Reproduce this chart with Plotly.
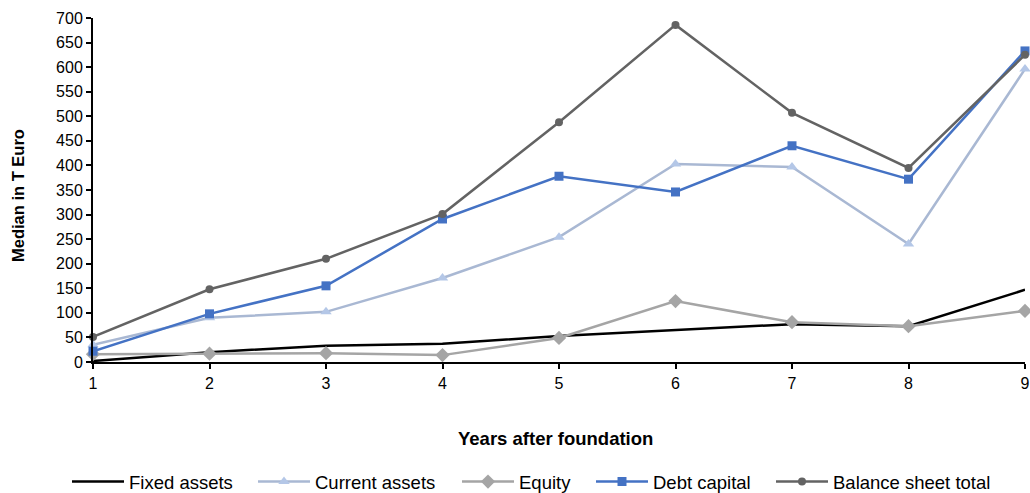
import plotly.graph_objects as go

years = [1, 2, 3, 4, 5, 6, 7, 8, 9]
fixed_assets = [2, 20, 33, 37, 53, 65, 77, 73, 147]
current_assets = [35, 90, 102, 171, 254, 403, 397, 240, 596]
equity = [16, 17, 18, 14, 49, 124, 81, 73, 104]
debt_capital = [22, 98, 155, 291, 378, 346, 440, 372, 633]
balance_total = [51, 148, 210, 301, 488, 686, 507, 395, 625]

FONT = "Liberation Sans, Arial, sans-serif"
W, H = 1030, 493
L, R, T, B = 93, 5, 18, 131
PW, PH = W - L - R, H - T - B

# legend entry left positions (pixels) as in the reference
legend_px = [67, 253, 457, 591, 771]
legend_y_px = 482

series = [
    ("Fixed assets", fixed_assets, dict(color="#000000"), None),
    ("Current assets", current_assets, dict(color="#A9B8D3"), dict(symbol="triangle-up", size=10, color="#B4C7E7")),
    ("Equity", equity, dict(color="#A5A5A5"), dict(symbol="diamond", size=11, color="#A5A5A5")),
    ("Debt capital", debt_capital, dict(color="#4472C4"), dict(symbol="square", size=9, color="#4472C4")),
    ("Balance sheet total", balance_total, dict(color="#636363"), dict(symbol="circle", size=8, color="#636363")),
]

fig = go.Figure()
legend_layouts = {}
for i, (name, vals, line, marker) in enumerate(series):
    lname = "legend" if i == 0 else f"legend{i + 1}"
    kw = dict(x=years, y=vals, name=name, line=dict(width=2.5, **line), cliponaxis=False,
              legend=lname)
    if marker is None:
        kw["mode"] = "lines"
    else:
        kw["mode"] = "lines+markers"
        kw["marker"] = marker
    fig.add_trace(go.Scatter(**kw))
    legend_layouts[lname] = dict(
        orientation="h", x=(legend_px[i] - L) / PW, xanchor="left",
        y=-(legend_y_px - (T + PH)) / PH, yanchor="middle",
        font=dict(size=18.5, family=FONT, color="#000000"), itemwidth=52,
        bgcolor="rgba(0,0,0,0)", borderwidth=0,
    )

fig.update_layout(
    width=W, height=H,
    margin=dict(l=L, r=R, t=T, b=B, autoexpand=False),
    paper_bgcolor="white", plot_bgcolor="white",
    font=dict(family=FONT, size=16, color="#000000"),
    showlegend=True,
    xaxis=dict(range=[1, 9], tickvals=years, showgrid=False, zeroline=False,
               showline=True, linecolor="#000000", linewidth=2,
               ticks="outside", ticklen=5, tickcolor="#000000", tickwidth=1.5,
               tickfont=dict(size=16), ticklabeloverflow="allow", ticklabelstandoff=1),
    yaxis=dict(range=[0, 700], dtick=50, showgrid=False, zeroline=False,
               showline=True, linecolor="#000000", linewidth=2,
               ticks="outside", ticklen=5, tickcolor="#000000", tickwidth=1.5,
               tickfont=dict(size=16)),
    annotations=[
        dict(text="<b>Years after foundation</b>", xref="paper", yref="paper",
             x=(555 - L) / PW, y=-(438 - (T + PH)) / PH, xanchor="center", yanchor="middle",
             showarrow=False, font=dict(size=18.5, family=FONT, color="#000000")),
        dict(text="<b>Median in T Euro</b>", xref="paper", yref="paper",
             x=(18 - L) / PW, y=1 - (196 - T) / PH, xanchor="center", yanchor="middle",
             textangle=-90, showarrow=False, font=dict(size=16.5, family=FONT, color="#000000")),
    ],
    **legend_layouts,
)

fig.write_html("out.html", config={"displayModeBar": False},
               post_script="document.body.style.margin='0';")
